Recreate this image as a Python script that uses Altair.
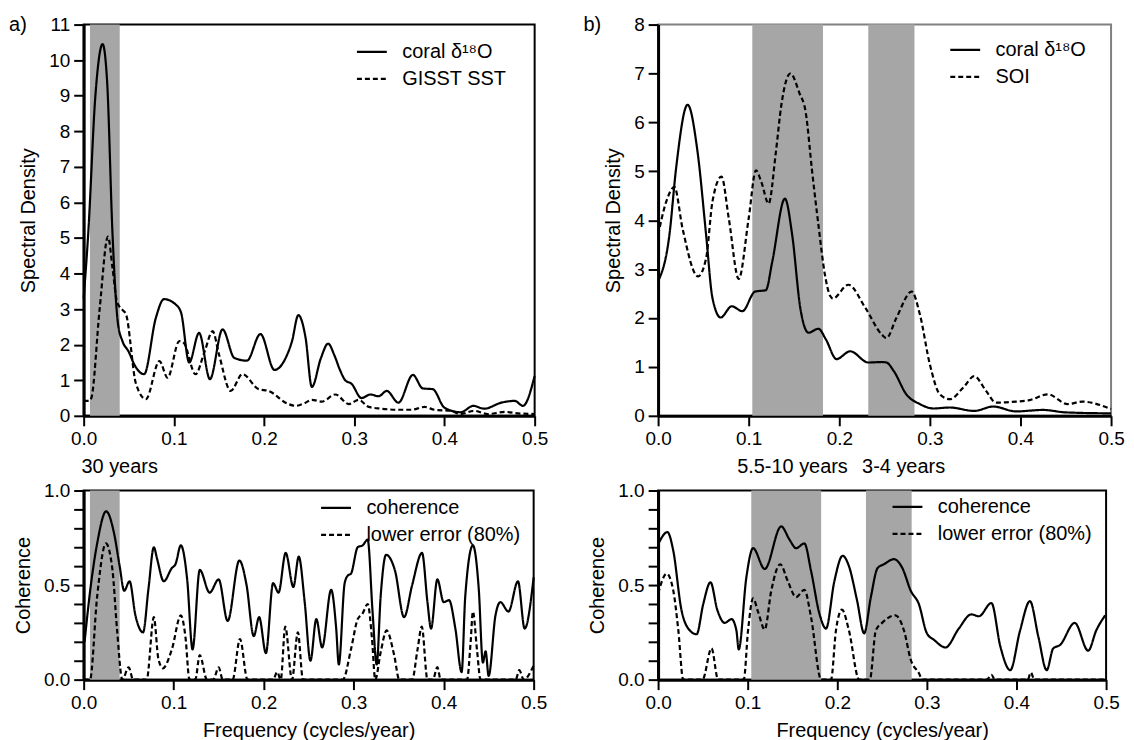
import altair as alt
import pandas as pd

# ---------------- data ----------------
# Panel a) spectral density: coral d18O vs GISST SST
a_coral_f = [0.000, 0.005, 0.013, 0.021, 0.026, 0.032, 0.038, 0.043, 0.050, 0.056, 0.067, 0.080, 0.089,
             0.102, 0.108, 0.117, 0.128, 0.140, 0.154, 0.167, 0.181, 0.196, 0.2115, 0.224, 0.231, 0.238,
             0.246, 0.253, 0.263, 0.271, 0.278, 0.284, 0.290, 0.297, 0.308, 0.318, 0.327, 0.336, 0.349,
             0.365, 0.376, 0.387, 0.400, 0.418, 0.432, 0.444, 0.463, 0.478, 0.487, 0.500]
a_coral_v = [3.3, 5.1, 9.0, 10.45, 9.4, 5.1, 2.6, 2.1, 1.8, 1.45, 1.17, 2.75, 3.28,
             3.13, 2.9, 1.5, 2.33, 1.03, 2.43, 1.63, 1.55, 2.3, 1.29, 1.63, 2.1, 2.83,
             2.2, 0.81, 1.62, 2.03, 1.7, 1.3, 1.0, 0.9, 0.5, 0.6, 0.55, 0.7, 0.37,
             1.15, 0.77, 0.75, 0.23, 0.1, 0.28, 0.2, 0.37, 0.42, 0.28, 1.12]
a_sst_f = [0.000, 0.006, 0.0085, 0.0177, 0.027, 0.032, 0.037, 0.043, 0.047, 0.058, 0.069, 0.084, 0.093,
           0.106, 0.111, 0.124, 0.134, 0.143, 0.150, 0.163, 0.176, 0.194, 0.205, 0.227, 0.235, 0.246,
           0.253, 0.264, 0.279, 0.294, 0.305, 0.316, 0.330, 0.349, 0.363, 0.378, 0.389, 0.407, 0.418,
           0.433, 0.448, 0.467, 0.481, 0.500]
a_sst_v = [0.42, 0.42, 0.5, 3.0, 5.04, 4.15, 3.2, 2.98, 2.85, 0.9, 0.47, 1.54, 1.07,
           2.1, 2.05, 1.17, 1.8, 2.38, 1.73, 0.7, 1.17, 0.75, 0.7, 0.33, 0.28, 0.37,
           0.45, 0.4, 0.6, 0.33, 0.45, 0.25, 0.2, 0.17, 0.17, 0.25, 0.17, 0.14, 0.05,
           0.14, 0.05, 0.11, 0.07, 0.05]

# Panel b) spectral density: coral d18O vs SOI
b_coral_f = [0.000, 0.0125, 0.0198, 0.0326, 0.0436, 0.053, 0.060, 0.069, 0.0813, 0.093, 0.107, 0.119,
             0.126, 0.140, 0.148, 0.157, 0.166, 0.177, 0.185, 0.197, 0.212, 0.232, 0.247, 0.252, 0.260,
             0.274, 0.289, 0.304, 0.322, 0.349, 0.370, 0.395, 0.425, 0.450, 0.500]
b_coral_v = [2.75, 3.7, 5.05, 6.36, 5.39, 3.7, 2.41, 2.01, 2.24, 2.14, 2.54, 2.57,
             3.15, 4.44, 3.7, 2.2, 1.7, 1.78, 1.57, 1.16, 1.32, 1.09, 1.1, 1.09, 0.92,
             0.44, 0.24, 0.15, 0.17, 0.10, 0.19, 0.09, 0.12, 0.07, 0.05]
b_soi_f = [0.000, 0.009, 0.018, 0.027, 0.044, 0.053, 0.060, 0.070, 0.078, 0.089, 0.100, 0.108, 0.114,
           0.122, 0.130, 0.136, 0.146, 0.156, 0.163, 0.170, 0.177, 0.184, 0.190, 0.193, 0.210, 0.229,
           0.247, 0.252, 0.263, 0.280, 0.289, 0.300, 0.311, 0.322, 0.337, 0.349, 0.362, 0.373, 0.395,
           0.410, 0.430, 0.452, 0.468, 0.500]
b_soi_v = [3.7, 4.38, 4.68, 3.83, 2.85, 3.22, 4.38, 4.89, 4.04, 2.8, 4.04, 5.02, 4.78,
           4.34, 5.39, 6.35, 7.0, 6.6, 6.2, 5.0, 3.9, 2.9, 2.45, 2.4, 2.68, 2.2,
           1.66, 1.59, 2.0, 2.54, 2.07, 1.05, 0.44, 0.34, 0.58, 0.81, 0.51, 0.27, 0.29,
           0.32, 0.44, 0.24, 0.29, 0.14]

# Panel c) coherence (coral vs GISST SST)
c_coh_f = [0.001, 0.008, 0.015, 0.025, 0.0335, 0.040, 0.045, 0.051, 0.0575, 0.066, 0.072, 0.078, 0.0815,
           0.089, 0.098, 0.102, 0.108, 0.115, 0.121, 0.129, 0.140, 0.150, 0.160, 0.173, 0.181, 0.189,
           0.195, 0.2025, 0.2105, 0.2165, 0.2245, 0.233, 0.239, 0.2456, 0.252, 0.2585, 0.265, 0.275,
           0.2806, 0.2835, 0.290, 0.2935, 0.297, 0.3045, 0.310, 0.3156, 0.321, 0.3256, 0.330, 0.336,
           0.346, 0.356, 0.365, 0.376, 0.382, 0.386, 0.393, 0.400, 0.406, 0.413, 0.420, 0.424, 0.4325,
           0.439, 0.4436, 0.4466, 0.450, 0.4576, 0.463, 0.472, 0.4826, 0.490, 0.500]
c_coh_v = [0.2, 0.5, 0.72, 0.89, 0.78, 0.60, 0.47, 0.52, 0.34, 0.25, 0.48, 0.70, 0.64,
           0.52, 0.59, 0.61, 0.71, 0.53, 0.16, 0.58, 0.46, 0.53, 0.31, 0.63, 0.50, 0.23,
           0.33, 0.14, 0.51, 0.46, 0.67, 0.49, 0.65, 0.41, 0.10, 0.32, 0.17, 0.475,
           0.27, 0.08, 0.51, 0.55, 0.56, 0.70, 0.71, 0.74, 0.36, 0.08, 0.44, 0.66,
           0.575, 0.33, 0.50, 0.67, 0.41, 0.27, 0.53, 0.41, 0.42, 0.27, 0.04, 0.44, 0.71,
           0.48, 0.09, 0.15, 0.02, 0.34, 0.41, 0.36, 0.52, 0.27, 0.54]
c_err_f = [0.000, 0.007, 0.015, 0.0247, 0.032, 0.037, 0.043, 0.050, 0.055, 0.070, 0.078, 0.083, 0.088,
           0.098, 0.108, 0.113, 0.1176, 0.124, 0.129, 0.137, 0.144, 0.150, 0.1545, 0.1655, 0.1737,
           0.182, 0.2105, 0.215, 0.219, 0.2240, 0.2315, 0.238, 0.2437, 0.288, 0.297, 0.3045, 0.310,
           0.3156, 0.3204, 0.324, 0.330, 0.3366, 0.345, 0.3507, 0.365, 0.371, 0.3757, 0.382, 0.388,
           0.393, 0.3967, 0.426, 0.430, 0.4325, 0.437, 0.441, 0.480, 0.484, 0.489, 0.500]
c_err_v = [0.0, 0.0, 0.44, 0.72, 0.58, 0.27, 0.0, 0.065, 0.0, 0.0, 0.33, 0.11, 0.06,
           0.16, 0.34, 0.23, 0.0, 0.0, 0.13, 0.0, 0.0, 0.065, 0.0, 0.0, 0.215,
           0.0, 0.0, 0.04, 0.0, 0.28, 0.0, 0.25, 0.0, 0.0, 0.16, 0.32, 0.35,
           0.40, 0.215, 0.0, 0.145, 0.26, 0.13, 0.0, 0.0, 0.16, 0.28, 0.0, 0.0,
           0.066, 0.0, 0.0, 0.2, 0.36, 0.16, 0.0, 0.0, 0.05, 0.0, 0.075]

# Panel d) coherence (coral vs SOI)
d_coh_f = [0.000, 0.0104, 0.017, 0.026, 0.0337, 0.043, 0.0504, 0.0585, 0.066, 0.0744, 0.082, 0.0874,
           0.090, 0.0985, 0.106, 0.119, 0.1374, 0.1467, 0.154, 0.1633, 0.1707, 0.180, 0.1874, 0.1967,
           0.206, 0.213, 0.222, 0.230, 0.2374, 0.245, 0.252, 0.2633, 0.2726, 0.282, 0.291, 0.300,
           0.308, 0.3207, 0.3356, 0.3496, 0.358, 0.372, 0.382, 0.393, 0.404, 0.415, 0.4244, 0.4337,
           0.441, 0.4485, 0.465, 0.480, 0.489, 0.499]
d_coh_v = [0.715, 0.78, 0.68, 0.37, 0.27, 0.24, 0.40, 0.515, 0.37, 0.30, 0.32, 0.26,
           0.16, 0.54, 0.695, 0.585, 0.81, 0.74, 0.695, 0.72, 0.575, 0.35, 0.27, 0.52,
           0.655, 0.60, 0.42, 0.245, 0.435, 0.59, 0.61, 0.637, 0.59, 0.47, 0.40, 0.245,
           0.21, 0.17, 0.27, 0.345, 0.335, 0.405, 0.175, 0.05, 0.26, 0.415, 0.227, 0.05,
           0.165, 0.183, 0.30, 0.153, 0.26, 0.34]
d_err_f = [0.000, 0.0096, 0.017, 0.0226, 0.028, 0.0496, 0.0596, 0.067, 0.0956, 0.1004, 0.106, 0.1115,
           0.119, 0.1263, 0.1363, 0.1448, 0.154, 0.1633, 0.1707, 0.182, 0.193, 0.1985, 0.2052, 0.213,
           0.2244, 0.2363, 0.243, 0.250, 0.265, 0.2744, 0.282, 0.291, 0.295, 0.367, 0.372, 0.376,
           0.4126, 0.416, 0.420, 0.500]
d_err_v = [0.455, 0.56, 0.47, 0.26, 0.0, 0.0, 0.166, 0.0, 0.0, 0.26, 0.43, 0.36,
           0.265, 0.47, 0.61, 0.52, 0.436, 0.475, 0.33, 0.0, 0.0, 0.26, 0.37, 0.26,
           0.0, 0.0, 0.26, 0.30, 0.34, 0.26, 0.105, 0.035, 0.0, 0.0, 0.026, 0.0,
           0.0, 0.038, 0.0, 0.0]

# shaded frequency bands
a_band = [(0.007, 0.040)]
b_band = [(0.104, 0.182), (0.232, 0.283)]

series_a = ["coral δ¹⁸O", "GISST SST"]
series_b = ["coral δ¹⁸O", "SOI"]
series_c = ["coherence", "lower error (80%)"]

FONT = "Liberation Sans"
BAND = "#a6a6a6"
X_TICKS = [0.0, 0.1, 0.2, 0.3, 0.4, 0.5]
COH_LABELS = "(datum.value == 0 || datum.value == 0.5 || datum.value == 1) ? format(datum.value, '.1f') : ''"


def frame(fa, va, fb, vb, names):
    return pd.concat([
        pd.DataFrame({"f": fa, "v": va, "s": names[0]}),
        pd.DataFrame({"f": fb, "v": vb, "s": names[1]}),
    ], ignore_index=True)


def panel(df, names, bands, ymax, yvals, ytitle, w, h, xtitle, legend_xy, letter=None,
          notes=None, ylabel_expr=None, frame_color="black"):
    xsc = alt.Scale(domain=[0, 0.5], nice=False, zero=False, padding=0)
    ysc = alt.Scale(domain=[0, ymax], nice=False, padding=0)
    bdf = pd.DataFrame({"b0": [b[0] for b in bands], "b1": [b[1] for b in bands]})
    band = alt.Chart(bdf).mark_rect(color=BAND).encode(
        x=alt.X("b0:Q", scale=xsc),
        x2="b1:Q",
        y=alt.value(0),
        y2=alt.value(h),
    )
    ykw = dict(values=yvals, title=ytitle, titlePadding=10, labelFlush=False)
    if ylabel_expr:
        ykw["labelExpr"] = ylabel_expr
    xkw = dict(values=X_TICKS, format=".1f", title=xtitle if xtitle else None,
               titlePadding=8, labelFlush=False)
    lines = alt.Chart(df).mark_line(color="black", strokeWidth=2.2, interpolate="monotone").encode(
        x=alt.X("f:Q", scale=xsc, axis=alt.Axis(**xkw)),
        y=alt.Y("v:Q", scale=ysc, axis=alt.Axis(**ykw)),
        strokeDash=alt.StrokeDash(
            "s:N",
            scale=alt.Scale(domain=names, range=[[1, 0], [5, 3]]),
            legend=alt.Legend(
                title=None, orient="none", legendX=legend_xy[0], legendY=legend_xy[1],
                symbolType="stroke", symbolSize=900, symbolStrokeWidth=2.2,
                symbolStrokeColor="black", labelFontSize=20, labelFont=FONT,
                labelColor="black", labelOffset=14, rowPadding=-7, padding=0,
            ),
        ),
        detail="s:N",
    )
    layers = [band, lines]
    if letter:
        layers.append(alt.Chart(pd.DataFrame({"t": [letter]})).mark_text(
            font=FONT, fontSize=20, color="black", align="center", baseline="middle"
        ).encode(text="t:N", x=alt.value(-66), y=alt.value(0)))
    if notes:
        ndf = pd.DataFrame({"f": [n[0] for n in notes], "t": [n[1] for n in notes]})
        layers.append(alt.Chart(ndf).mark_text(
            font=FONT, fontSize=20, color="black", align="center", baseline="middle"
        ).encode(x=alt.X("f:Q", scale=xsc), text="t:N", y=alt.value(-24)))
    return alt.layer(*layers).properties(
        width=w, height=h, view=alt.ViewBackground(stroke=frame_color, strokeWidth=2)
    )


A = panel(frame(a_coral_f, a_coral_v, a_sst_f, a_sst_v, series_a), series_a, a_band, 11,
          list(range(0, 12)), "Spectral Density", 453, 393, None, (273, 11), letter="a)")
B = panel(frame(b_coral_f, b_coral_v, b_soi_f, b_soi_v, series_b), series_b, b_band, 8,
          list(range(0, 9)), "Spectral Density", 455, 393, None, (292, 9), letter="b)",
          frame_color="#808080")
C = panel(frame(c_coh_f, c_coh_v, c_err_f, c_err_v, series_c), series_c, a_band, 1,
          [round(i * 0.1, 1) for i in range(11)], "Coherence", 452, 190,
          "Frequency (cycles/year)", (237, 1), notes=[(0.040, "30 years")],
          ylabel_expr=COH_LABELS)
D = panel(frame(d_coh_f, d_coh_v, d_err_f, d_err_v, series_c), series_c, b_band, 1,
          [round(i * 0.1, 1) for i in range(11)], "Coherence", 450, 190,
          "Frequency (cycles/year)", (234, 0), notes=[(0.15, "5.5-10 years"), (0.274, "3-4 years")],
          ylabel_expr=COH_LABELS)

chart = alt.concat(A, B, C, D, columns=2, spacing={"row": 6, "column": 33}).resolve_scale(
    strokeDash="independent", x="independent", y="independent"
).resolve_legend(strokeDash="independent").properties(
    padding={"left": 0, "top": 4, "right": 0, "bottom": 0}
).configure_view(
    stroke="black", strokeWidth=2
).configure_axis(
    domainColor="black", domainWidth=3, tickColor="black", tickWidth=2, tickSize=10,
    labelFont=FONT, labelFontSize=19, labelColor="black", labelPadding=4,
    titleFont=FONT, titleFontSize=20, titleFontWeight="normal", titleColor="black",
    grid=False,
)

chart.save("out.html", embed_options={"renderer": "svg", "actions": False})
